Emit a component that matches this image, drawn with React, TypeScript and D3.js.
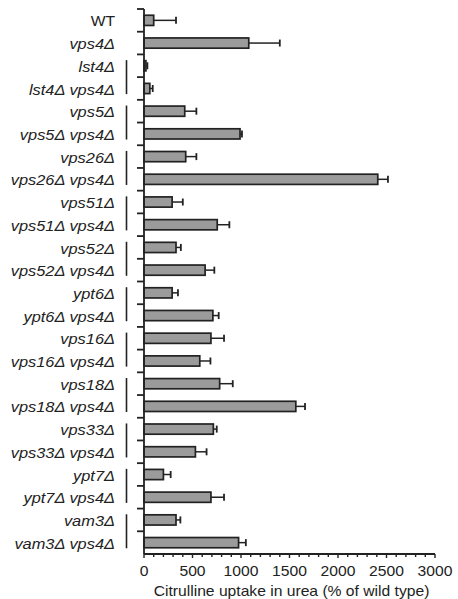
import React, { useEffect, useRef } from 'react';
import * as d3 from 'd3';

// strain labels, top to bottom
const strains = [
    'WT', 'vps4Δ',
    'lst4Δ', 'lst4Δ vps4Δ',
    'vps5Δ', 'vps5Δ vps4Δ',
    'vps26Δ', 'vps26Δ vps4Δ',
    'vps51Δ', 'vps51Δ vps4Δ',
    'vps52Δ', 'vps52Δ vps4Δ',
    'ypt6Δ', 'ypt6Δ vps4Δ',
    'vps16Δ', 'vps16Δ vps4Δ',
    'vps18Δ', 'vps18Δ vps4Δ',
    'vps33Δ', 'vps33Δ vps4Δ',
    'ypt7Δ', 'ypt7Δ vps4Δ',
    'vam3Δ', 'vam3Δ vps4Δ',
];
// citrulline uptake, % of wild type
const uptake = [
    100, 1080,
    20, 60,
    420, 990,
    430, 2410,
    290, 755,
    330, 630,
    290, 710,
    690, 575,
    780, 1565,
    715, 530,
    200, 690,
    330, 975,
];
// upper end of error bar
const errTop = [
    330, 1400,
    35, 90,
    540, 1010,
    540, 2515,
    400, 880,
    380, 725,
    350, 770,
    825, 685,
    915, 1660,
    750, 645,
    275, 825,
    375, 1050,
];
const xTicks = [0, 500, 1000, 1500, 2000, 2500, 3000];

export default function App() {
    const ref = useRef<SVGSVGElement | null>(null);

    useEffect(() => {
        const svg = d3.select(ref.current);
        svg.selectAll('*').remove();
        const width = 458, height = 599;
        const left = 144, right = 435, top = 9, bottom = 554;
        const ink = '#222';
        const font = '"Liberation Sans", Arial, Helvetica, sans-serif';
        const fs = 14.5, sx = 1.08; // the original type is set a bit wide

        svg.attr('width', width).attr('height', height).attr('viewBox', `0 0 ${width} ${height}`);

        const x = d3.scaleLinear().domain([0, 3000]).range([left, right]);
        const y = d3.scaleBand<string>().domain(strains).range([top, bottom])
            .paddingInner(0.55).paddingOuter(0.275);
        const step = y.step();
        const mid = (s: string) => y(s)! + y.bandwidth() / 2;

        // bars
        const rows = strains.map((s, i) => ({ s, v: uptake[i], e: errTop[i] }));
        const g = svg.append('g');
        g.selectAll('line.err').data(rows).join('line')
            .attr('x1', d => x(d.v)).attr('x2', d => x(d.e))
            .attr('y1', d => mid(d.s)).attr('y2', d => mid(d.s))
            .attr('stroke', ink).attr('stroke-width', 1.5);
        g.selectAll('line.cap').data(rows).join('line')
            .attr('x1', d => x(d.e)).attr('x2', d => x(d.e))
            .attr('y1', d => mid(d.s) - 3.5).attr('y2', d => mid(d.s) + 3.5)
            .attr('stroke', ink).attr('stroke-width', 1.8);
        g.selectAll('rect').data(rows).join('rect')
            .attr('x', x(0)).attr('y', d => y(d.s)!)
            .attr('width', d => x(d.v) - x(0)).attr('height', y.bandwidth())
            .attr('fill', '#9b9b9b').attr('stroke', ink).attr('stroke-width', 1.7);

        // y axis with ticks between rows
        svg.append('line').attr('x1', left).attr('x2', left).attr('y1', top).attr('y2', bottom)
            .attr('stroke', ink).attr('stroke-width', 1.8);
        svg.selectAll('line.ytick').data(d3.range(strains.length)).join('line')
            .attr('class', 'ytick')
            .attr('x1', left - 7).attr('x2', left)
            .attr('y1', i => top + i * step).attr('y2', i => top + i * step)
            .attr('stroke', ink).attr('stroke-width', 1.8);

        // labels
        svg.selectAll('text.lab').data(strains).join('text')
            .attr('class', 'lab')
            .attr('transform', s => `translate(115,${mid(s)}) scale(${s === 'WT' ? sx : 1.13},1)`)
            .attr('dy', '0.42em').attr('text-anchor', 'end')
            .attr('font-family', font).attr('font-size', fs)
            .attr('font-style', s => s === 'WT' ? 'normal' : 'italic')
            .attr('fill', ink)
            .text(s => s);

        // group brackets (single vs vps4 double mutant)
        const groups = d3.range(2, strains.length, 2);
        svg.selectAll('line.grp').data(groups).join('line')
            .attr('class', 'grp')
            .attr('x1', 126.5).attr('x2', 126.5)
            .attr('y1', i => top + (i + 1) * step - 17).attr('y2', i => top + (i + 1) * step + 17)
            .attr('stroke', ink).attr('stroke-width', 1.6);

        // x axis
        const xa = svg.append('g').attr('transform', `translate(0,${bottom})`);
        xa.append('line').attr('x1', left).attr('x2', right).attr('stroke', ink).attr('stroke-width', 1.8);
        xa.selectAll('line.minor').data(d3.range(0, 3001, 100)).join('line')
            .attr('class', 'minor')
            .attr('x1', d => x(d)).attr('x2', d => x(d))
            .attr('y1', 0).attr('y2', d => d % 500 === 0 ? 4 : 3)
            .attr('stroke', ink).attr('stroke-width', 1.4);
        xa.selectAll('text').data(xTicks).join('text')
            .attr('transform', d => `translate(${x(d)},12) scale(${sx},1)`)
            .attr('dy', '0.71em')
            .attr('text-anchor', 'middle')
            .attr('font-family', font).attr('font-size', fs).attr('fill', ink)
            .text(d => d);
        svg.append('text')
            .attr('transform', `translate(${(left + right) / 2 + 2},591) scale(${sx},1)`)
            .attr('dy', '0.35em')
            .attr('text-anchor', 'middle')
            .attr('font-family', font).attr('font-size', fs).attr('fill', ink)
            .text('Citrulline uptake in urea (% of wild type)');
    }, []);

    return <svg ref={ref} style={{ position: 'absolute', left: 0, top: 0 }} />;
}
